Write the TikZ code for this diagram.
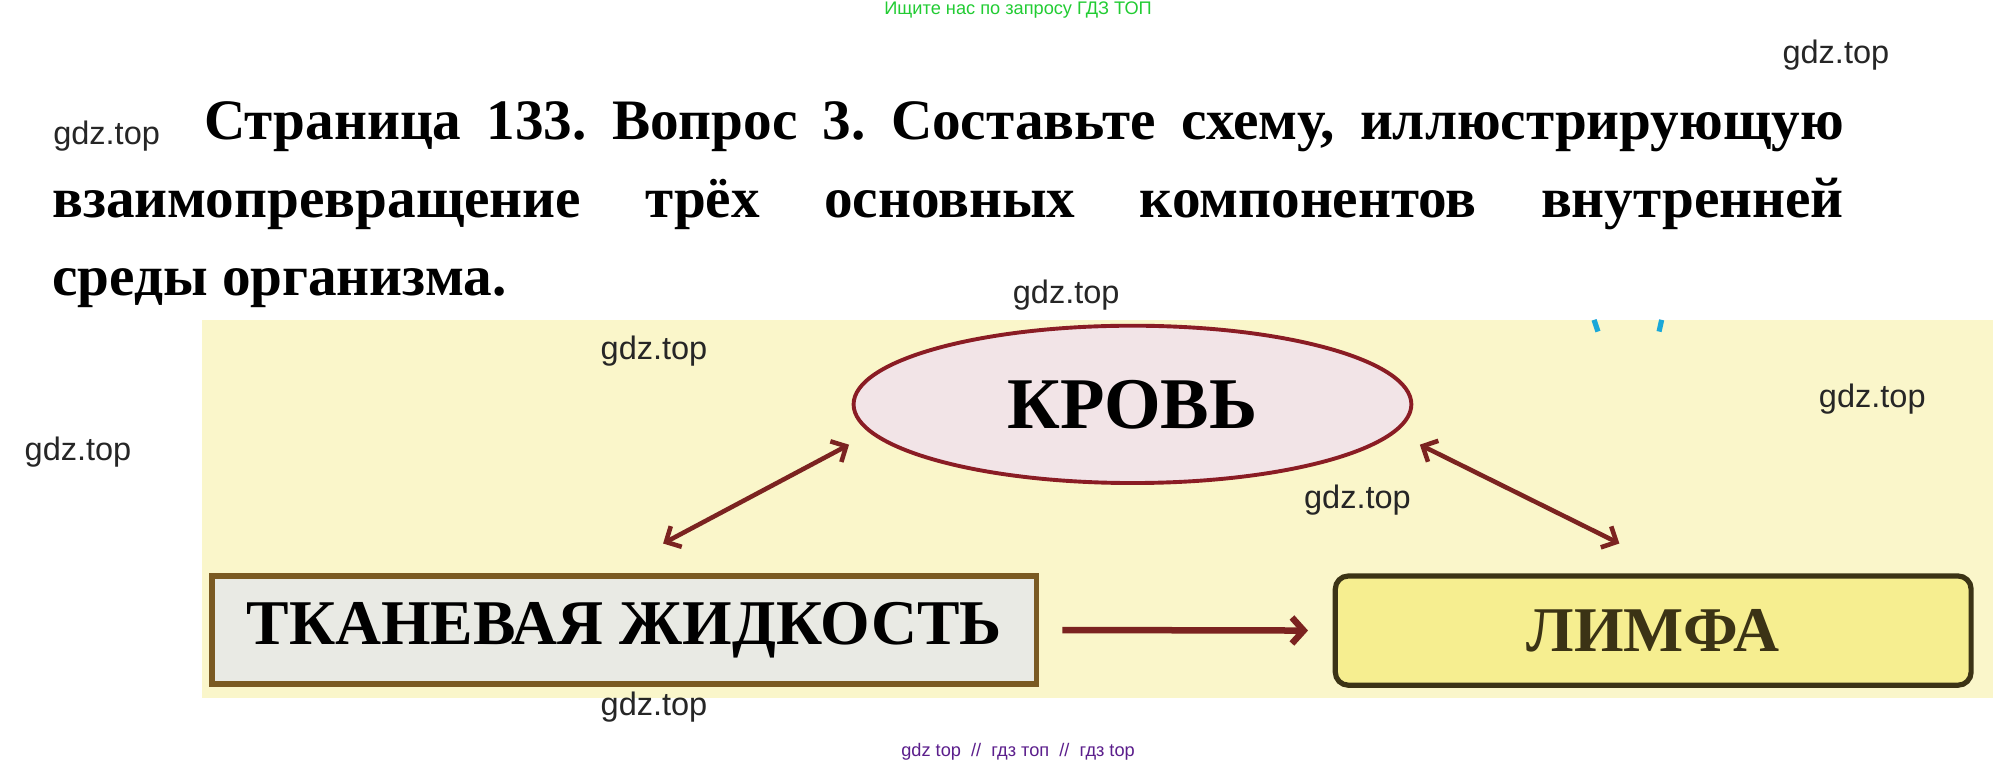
\documentclass[tikz,border=0pt]{standalone}
\usepackage{fontspec}
\setmainfont{Liberation Serif}
\newfontfamily\wmfont{Liberation Sans}
\usetikzlibrary{shapes,arrows,arrows.meta,positioning}
\definecolor{panel}{RGB}{250,246,202}
\definecolor{krovfill}{RGB}{242,228,231}
\definecolor{krovline}{RGB}{138,28,36}
\definecolor{tkanfill}{RGB}{233,234,228}
\definecolor{tkanline}{RGB}{122,90,34}
\definecolor{limfill}{RGB}{246,238,144}
\definecolor{limline}{RGB}{59,51,21}
\definecolor{arrowc}{RGB}{123,35,32}
\definecolor{gdzgreen}{RGB}{34,204,51}
\definecolor{gdzpurple}{RGB}{91,30,140}
\definecolor{marks}{RGB}{26,168,216}

\begin{document}
\begin{tikzpicture}[x=1pt,y=-1pt,
  wm/.style={font=\wmfont\fontsize{25}{25}\selectfont,text=black!85},
  box/.style={draw,line width=4pt,inner sep=0pt,font=\bfseries\fontsize{49}{49}\selectfont},
  dbl/.style={{Straight Barb[length=9pt,width=18pt]}-{Straight Barb[length=9pt,width=18pt]},line width=3.5pt,draw=arrowc},
  one/.style={-{Straight Barb[length=9pt,width=20pt]},line width=5pt,draw=arrowc}]
\useasboundingbox[fill=white](0,0)rectangle(1549,584);
\fill[panel](155,246)rectangle(1533,537);
\draw[marks,line width=4pt](1226,246)--(1229,255);
\draw[marks,line width=4pt](1278,246)--(1276,255);
\node[anchor=north west,inner sep=0pt,text width=1378pt,align=justify,
  font=\bfseries\fontsize{44}{60}\selectfont](zad)at(40,78)
  {\hspace*{117pt}Страница~133.~Вопрос~3.~Составьте~схему,~иллюстрирующую\linebreak
   взаимопревращение~ трёх~ основных~ компонентов~ внутренней\linebreak
   среды организма.};
\node[ellipse,box,line width=3pt,fill=krovfill,draw=krovline,minimum width=429pt,minimum height=121pt,
  font=\bfseries\fontsize{56}{56}\selectfont](krov)at(871,311){КРОВЬ};
\node[rectangle,box,fill=tkanfill,draw=tkanline,minimum width=634pt,minimum height=83pt](tkan)at(480,484.5){ТКАНЕВАЯ ЖИДКОСТЬ};
\node[rectangle,rounded corners=10pt,box,fill=limfill,draw=limline,text=limline,minimum width=489pt,minimum height=84pt](limfa)at(1271.5,485){ЛИМФА};
\draw[dbl]([shift={(-2,31)}]krov.west)--([shift={(30,-23)}]tkan.north);
\draw[dbl]([shift={(5,31)}]krov.east)--([shift={(-26,-23)}]limfa.north);
\draw[one,shorten <=18pt,shorten >=19pt](tkan.east)--(limfa.west);
\node[font=\wmfont\fontsize{14}{14}\selectfont,text=gdzgreen](poisk)at(783,8){Ищите нас по запросу ГДЗ ТОП};
\node[font=\wmfont\fontsize{14}{14}\selectfont,text=gdzpurple](niz)at(783,578){gdz top\ \ //\ \ гдз топ\ \ //\ \ гдз top};
\node[wm](w1)at(1412,42){gdz.top};
\node[wm](w2)at(82,105){gdz.top};
\node[wm](w3)at(820,227){gdz.top};
\node[wm](w4)at(503,270){gdz.top};
\node[wm](w5)at(1440,307){gdz.top};
\node[wm](w6)at(60,348){gdz.top};
\node[wm](w7)at(1044,385){gdz.top};
\node[wm](w8)at(503,544){gdz.top};
\end{tikzpicture}
\end{document}
